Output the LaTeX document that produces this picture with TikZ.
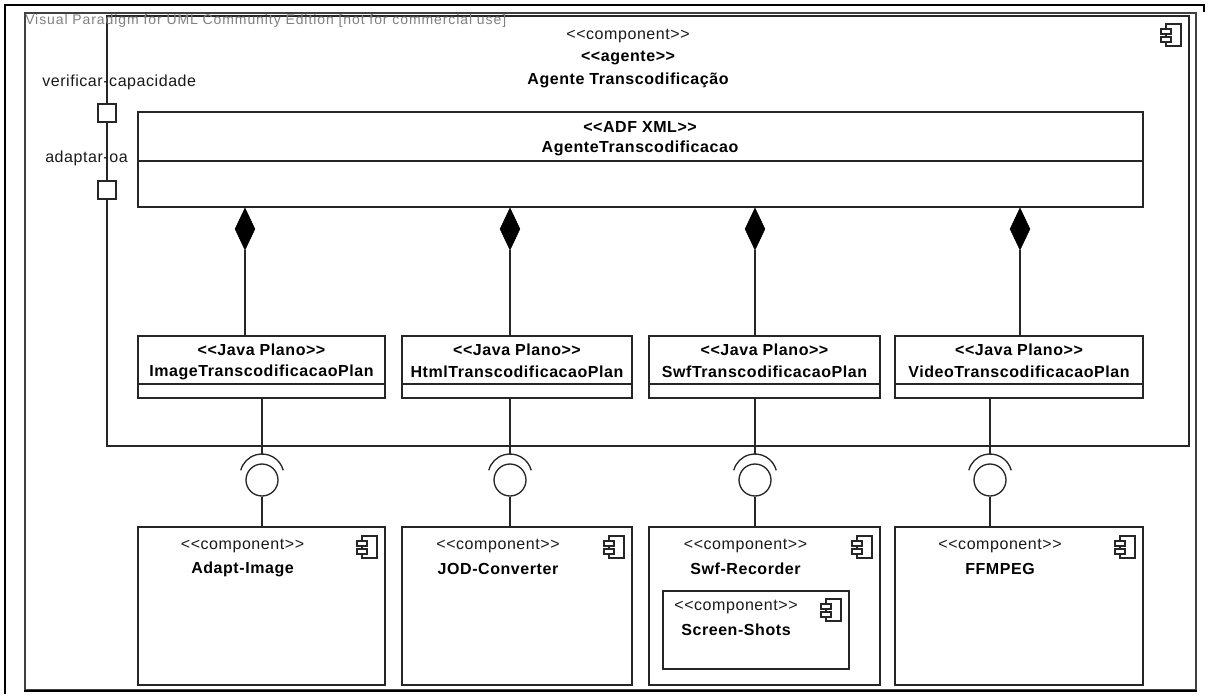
\documentclass[tikz,border=0pt]{standalone}
\usepackage{fontspec}
\setmainfont{Liberation Sans}[Ligatures=TeXOff, LetterSpace=3.5]
\usetikzlibrary{shapes.geometric,fit,calc}

\tikzset{
  edge/.style={draw=black!85, line width=1pt},
  box/.style={edge, fill=white, inner sep=0pt},
  stereo/.style={font=\fontsize{12}{14}\selectfont, inner sep=0pt, text=black!90},
  title/.style={font=\fontsize{12}{14}\selectfont\bfseries, inner sep=0pt},
  portbox/.style={box, minimum size=13.5pt},
  compdia/.style={diamond, fill=black, draw=black, inner sep=0pt, minimum width=15pt, minimum height=31.5pt},
  ball/.style={circle, edge, inner sep=0pt, minimum size=24pt},
  compicon/.pic={
    \draw[black!85, line width=0.8pt, fill=white] (-15,0) rectangle (0,22);
    \draw[black!85, line width=0.8pt, fill=white] (-20,5) rectangle (-10,10);
    \draw[black!85, line width=0.8pt, fill=white] (-20,13) rectangle (-10,18);
  },
}

\begin{document}
\begin{tikzpicture}[x=0.75pt, y=-0.75pt]
\useasboundingbox (0,0) rectangle (1213,694);

% page frame
\draw[black, line width=1.5pt] (1204,12) -- (1204,5) -- (5,5) -- (5,694);
\node[draw=black!75, line width=1pt, inner sep=0pt, fit={(25,13) (1196,690)}] (frame) {};
\draw[black, line width=1.3pt] (frame.south west) -- (frame.south east);

% agent component
\node[box, fit={(107,16) (1189,446)}] (agent) {};
\node[stereo] (agst) at (628,36) {<<component>>};
\node[title] (agkind) at (628,58) {<<agente>>};
\node[title] (agname) at (628,80) {Agente Transcodificação};
\pic at (1181,24) {compicon};

% ports
\node[portbox] (p1) at (107,113) {};
\node[portbox] (p2) at (107,190) {};
\node[stereo, anchor=west] (p1lbl) at (42,82) {verificar-capacidade};
\node[stereo, anchor=west] (p2lbl) at (45,158) {adaptar-oa};

% ADF class
\node[box, fit={(138,112) (1143,207)}] (adf) {};
\draw[edge] (adf.west |- 0,161) -- (adf.east |- 0,161);
\node[title] (adfst) at (640,127) {<<ADF XML>>};
\node[title] (adfname) at (640,148) {AgenteTranscodificacao};

% plans, required interfaces and external components
\foreach \n/\l/\r/\plan/\dx/\ix/\cname in {
  img/138/385/ImageTranscodificacaoPlan/245/262/Adapt-Image,
  html/402/632/HtmlTranscodificacaoPlan/510/510/JOD-Converter,
  swf/649/880/SwfTranscodificacaoPlan/755/755/Swf-Recorder,
  video/895/1143/VideoTranscodificacaoPlan/1020/990/FFMPEG}{
  \pgfmathsetmacro\cx{(\l+\r)/2}
  \node[box, fit={(\l,336) (\r,398)}] (\n-plan) {};
  \draw[edge] (\n-plan.west |- 0,384) -- (\n-plan.east |- 0,384);
  \node[title] at (\cx,350) {<<Java Plano>>};
  \node[title] at (\cx,372) {\plan};
  % composition
  \node[compdia] (\n-dia) at (\dx,229) {};
  \draw[edge] (\n-dia.south) -- (\n-plan.north -| \n-dia);
  % ball and socket
  \node[ball] (\n-ball) at (\ix,480) {};
  \coordinate (\n-sock) at (\ix,454);
  \draw[edge] (\ix,476) ++(-15:22) arc[start angle=-15, end angle=-165, radius=22];
  \draw[edge] (\n-plan.south -| \n-ball) -- (\n-sock);
  % component
  \node[box, fit={(\l,527) (\r,685)}] (\n-comp) {};
  \draw[edge] (\n-ball.south) -- (\n-comp.north -| \n-ball);
  \node[stereo] at (\cx-19,546) {<<component>>};
  \node[title] at (\cx-19,569) {\cname};
  \pic at (\r-8,536) {compicon};
}

% nested component
\node[box, fit={(663,591) (849,669)}] (shots) {};
\node[stereo] (shotsst) at (736,607) {<<component>>};
\node[title] (shotsname) at (736,630) {Screen-Shots};
\pic at (841,599) {compicon};

% tool notice
\node[anchor=west, text=black!50, font=\fontsize{10.5}{12}\selectfont\addfontfeatures{LetterSpace=6.5}, inner sep=0pt] (wm) at (25,21)
  {Visual Paradigm for UML Community Edition [not for commercial use]};
\end{tikzpicture}
\end{document}
